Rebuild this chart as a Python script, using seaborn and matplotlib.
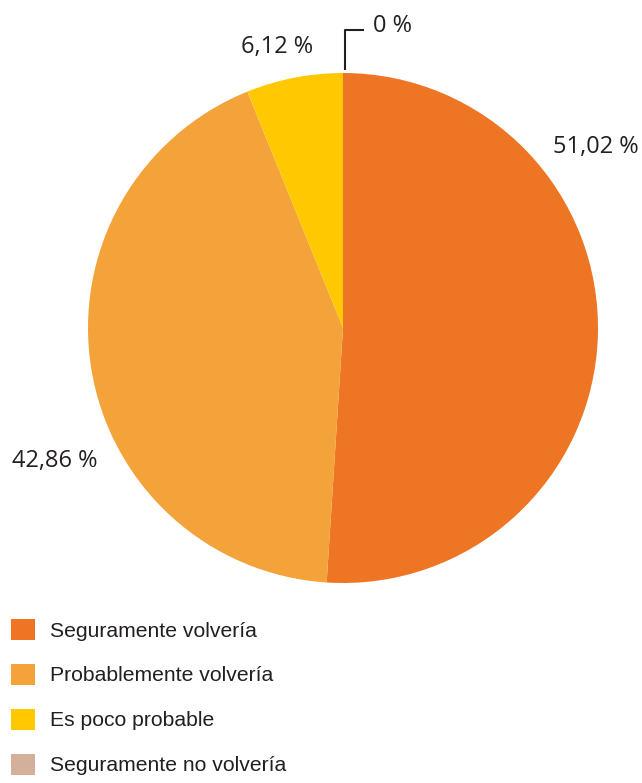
import matplotlib.pyplot as plt
import numpy as np
import seaborn as sns
from matplotlib.patches import Patch

# Chart data
CATEGORIES = [
    "Seguramente volvería",
    "Probablemente volvería",
    "Es poco probable",
    "Seguramente no volvería",
]
SHARES = [51.02, 42.86, 6.12, 0.0]
COLORS = ["#EE7524", "#F4A23A", "#FFC800", "#D4B09A"]
LABELS = ["51,02 %", "42,86 %", "6,12 %", "0 %"]

TEXT_COLOR = "#231F20"

sns.set_theme(style="white")
plt.rcParams["font.family"] = ["Liberation Sans", "DejaVu Sans"]


def main():
    fig = plt.figure(figsize=(6.42, 7.83), dpi=100)
    ax = fig.add_axes([88 / 642, 1 - 583 / 783, 510 / 642, 510 / 783])
    palette = sns.color_palette(COLORS)

    wedges, _ = ax.pie(
        SHARES,
        colors=palette,
        startangle=90,
        counterclock=False,
        radius=1.0,
        wedgeprops={"linewidth": 0},
    )
    ax.set_xlim(-1, 1)
    ax.set_ylim(-1, 1)
    ax.set_aspect("equal")
    ax.axis("off")

    # percentage labels (positions tuned to the reference)
    label_pos = [(0.99, 0.71), (-1.13, -0.52), (-0.26, 1.10)]
    for (x, y), text in zip(label_pos, LABELS[:3]):
        ax.text(x, y, text, ha="center", va="center", fontsize=17,
                family=["Open Sans", "DejaVu Sans"], color=TEXT_COLOR,
                clip_on=False)

    # leader for the empty slice
    zero = wedges[3]
    theta = np.deg2rad(zero.theta1)
    x0, y0 = np.cos(theta) * 1.01 + 0.008, np.sin(theta) * 1.01
    ax.plot([x0, x0, x0 + 0.075], [y0, 1.17, 1.17], color=TEXT_COLOR,
            linewidth=1.5, clip_on=False, solid_capstyle="butt")
    ax.text(x0 + 0.11, 1.185, LABELS[3], ha="left", va="center", fontsize=17,
            family=["Open Sans", "DejaVu Sans"], color=TEXT_COLOR,
            clip_on=False)

    handles = [Patch(facecolor=c, edgecolor="none") for c in palette]
    fig.legend(
        handles,
        CATEGORIES,
        loc="upper left",
        bbox_to_anchor=(11 / 642, 1 - 619 / 783),
        frameon=False,
        fontsize=15.2,
        handlelength=1.15,
        handleheight=1.15,
        handletextpad=0.7,
        labelspacing=1.1,
        borderpad=0,
        borderaxespad=0,
        labelcolor=TEXT_COLOR,
    )

    fig.savefig("out.png", dpi=100)


if __name__ == "__main__":
    main()
